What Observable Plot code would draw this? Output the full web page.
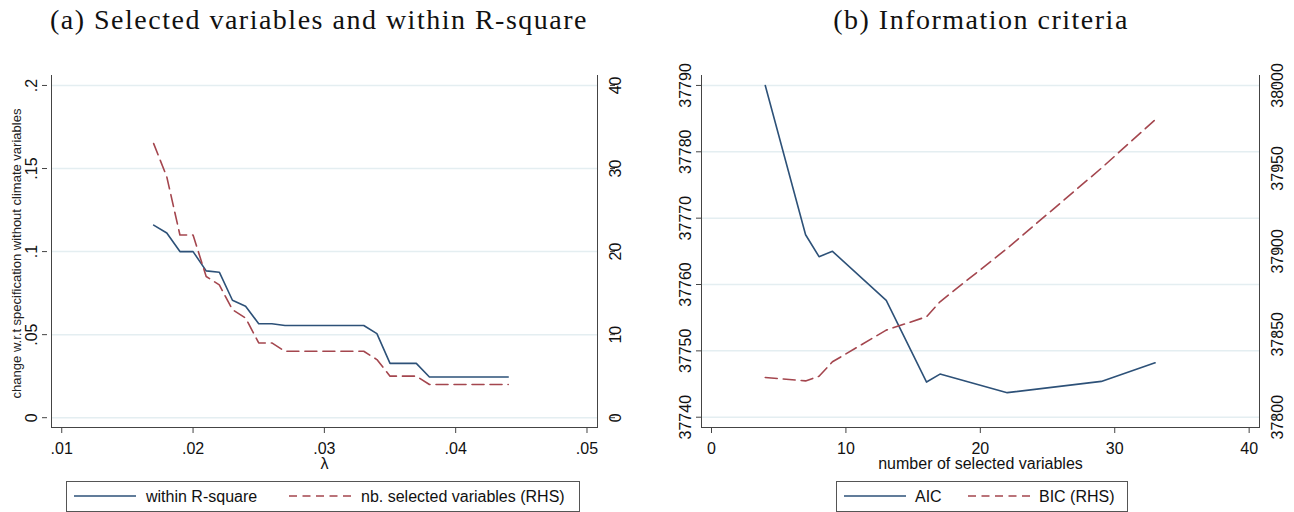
<!DOCTYPE html>
<html>
<head>
<meta charset="utf-8">
<script src="https://cdn.jsdelivr.net/npm/d3@7"></script>
<script src="https://cdn.jsdelivr.net/npm/@observablehq/plot@0.6"></script>
<style>
  html, body { margin: 0; padding: 0; background: #fff; }
  body { width: 1294px; height: 512px; position: relative; overflow: hidden; font-family: "Liberation Sans", Arial, sans-serif; color: #111; }
  .title { position: absolute; top: 0px; height: 40px; line-height: 40px; font-family: "Liberation Serif", serif; font-size: 28px; letter-spacing: 1.5px; text-align: center; color: #111; white-space: nowrap; }
  .panel { position: absolute; top: 58px; }
  .legend { position: absolute; top: 481px; height: 31px; border: 1px solid #555; box-sizing: border-box; font-size: 16px; color: #111; }
  .legend .s { position: absolute; top: 9px; }
  .legend .t { position: absolute; top: 0; line-height: 29px; white-space: nowrap; }
</style>
</head>
<body>
<div class="title" style="left:0px;width:638px;">(a) Selected variables and within R-square</div>
<div class="title" style="left:660px;width:642px;">(b) Information criteria</div>
<div id="left" class="panel" style="left:0px;"></div>
<div id="right" class="panel" style="left:647px;"></div>

<div class="legend" style="left:66px;width:514px;">
  <svg class="s" style="left:7px" width="62" height="10"><line x1="0" y1="5" x2="62" y2="5" stroke="#2d5178" stroke-width="1.6"/></svg>
  <span class="t" style="left:79px">within R-square</span>
  <svg class="s" style="left:222px" width="62" height="10"><line x1="0" y1="5" x2="62" y2="5" stroke="#a4464e" stroke-width="1.6" stroke-dasharray="8,5.5"/></svg>
  <span class="t" style="left:294px">nb. selected variables (RHS)</span>
</div>
<div class="legend" style="left:836px;width:292px;">
  <svg class="s" style="left:7px" width="62" height="10"><line x1="0" y1="5" x2="62" y2="5" stroke="#2d5178" stroke-width="1.6"/></svg>
  <span class="t" style="left:78px">AIC</span>
  <svg class="s" style="left:131px" width="62" height="10"><line x1="0" y1="5" x2="62" y2="5" stroke="#a4464e" stroke-width="1.6" stroke-dasharray="8,5.5"/></svg>
  <span class="t" style="left:202px">BIC (RHS)</span>
</div>

<script>
// ---------- Panel (a) data ----------
const lambda = [0.017, 0.018, 0.019, 0.020, 0.021, 0.022, 0.023, 0.024, 0.025, 0.026,
                0.027, 0.028, 0.029, 0.030, 0.031, 0.032, 0.033, 0.034, 0.035, 0.036,
                0.037, 0.038, 0.039, 0.040, 0.041, 0.042, 0.043, 0.044];
const withinR2 = [0.1159, 0.1112, 0.1000, 0.1000, 0.0884, 0.0876, 0.0707, 0.0671, 0.0566, 0.0566,
                  0.0555, 0.0555, 0.0555, 0.0555, 0.0555, 0.0555, 0.0555, 0.0506, 0.0327, 0.0327,
                  0.0327, 0.0245, 0.0245, 0.0245, 0.0245, 0.0245, 0.0245, 0.0245];
const nbSelected = [33, 29, 22, 22, 17, 16, 13, 12, 9, 9,
                    8, 8, 8, 8, 8, 8, 8, 7, 5, 5,
                    5, 4, 4, 4, 4, 4, 4, 4];
const lambdaTicks = [0.01, 0.02, 0.03, 0.04, 0.05];
const r2Ticks = [0, 0.05, 0.1, 0.15, 0.2];
const nbTicks = [0, 10, 20, 30, 40];

// ---------- Panel (b) data ----------
const nVars = [4, 7, 8, 9, 13, 16, 17, 22, 29, 33];
const aic = [37790, 37767.5, 37764.2, 37765.0, 37757.6, 37745.3, 37746.5, 37743.7, 37745.4, 37748.2];
const bic = [37823.9, 37821.9, 37824.7, 37833.4, 37852.5, 37860.6, 37869.6, 37901.8, 37950.1, 37979.3];
const nTicks = [0, 10, 20, 30, 40];
const aicTicks = [37740, 37750, 37760, 37770, 37780, 37790];
const bicTicks = [37800, 37850, 37900, 37950, 38000];

const BLUE = "#2d5178";
const RED = "#a4464e";
const GRID = "#e4eef1";
const AXIS = "#444";
const fmtDec = d => d === 0 ? "0" : String(+d.toFixed(4)).replace(/^0\./, ".");

// ---------- Panel (a) ----------
const k1 = 0.2 / 40; // RHS -> LHS mapping
const dataA = lambda.map((l, i) => ({l, r2: withinR2[i], nb: nbSelected[i]}));
const chartA = Plot.plot({
  width: 647, height: 420,
  marginLeft: 51, marginRight: 50, marginTop: 17, marginBottom: 51,
  x: {domain: [0.00922, 0.0508]},
  y: {domain: [-0.0059, 0.206]},
  style: {fontFamily: "Liberation Sans, Arial, sans-serif", fontSize: "16px", color: "#111", background: "white"},
  marks: [
    Plot.gridY(r2Ticks, {stroke: GRID, strokeOpacity: 1, strokeWidth: 1.5}),
    Plot.frame({anchor: "left", stroke: AXIS}),
    Plot.frame({anchor: "right", stroke: AXIS}),
    Plot.frame({anchor: "bottom", stroke: AXIS}),
    Plot.axisX(lambdaTicks, {tickSize: 6, tickPadding: 9, tickFormat: fmtDec, label: null, stroke: AXIS}),
    Plot.axisY(r2Ticks, {anchor: "left", tickSize: 5, tickPadding: 6, tickRotate: -90, dx: -4, tickFormat: fmtDec, label: null, stroke: AXIS}),
    Plot.axisY(nbTicks.map(t => t * k1), {anchor: "right", tickSize: 5, tickPadding: 6, tickRotate: -90, dx: 12, tickFormat: (d) => String(Math.round(d / k1)), label: null, stroke: AXIS}),
    Plot.line(dataA, {x: "l", y: "r2", stroke: BLUE, strokeWidth: 1.6}),
    Plot.line(dataA, {x: "l", y: d => d.nb * k1, stroke: RED, strokeWidth: 1.6, strokeDasharray: "12,6"}),
    Plot.text(["change w.r.t specification without climate variables"], {text: d => d, frameAnchor: "left", rotate: -90, textAnchor: "middle", lineAnchor: "middle", dx: -35, dy: 2, fontSize: 13, fill: "#222"}),
    Plot.text(["λ"], {text: d => d, frameAnchor: "bottom", lineAnchor: "top", dy: 30, fontSize: 16, fill: "#111"})
  ]
});
document.getElementById("left").appendChild(chartA);

// ---------- Panel (b) ----------
const k2 = 50 / 200;
const toLeft = v => 37740 + (v - 37800) * k2;
const dataB = nVars.map((n, i) => ({n, aic: aic[i], bic: bic[i]}));
const chartB = Plot.plot({
  width: 647, height: 420,
  marginLeft: 54, marginRight: 35, marginTop: 17, marginBottom: 51,
  x: {domain: [-0.744, 40.77]},
  y: {domain: [37738.45, 37791.5]},
  style: {fontFamily: "Liberation Sans, Arial, sans-serif", fontSize: "16px", color: "#111", background: "white"},
  marks: [
    Plot.gridY(aicTicks, {stroke: GRID, strokeOpacity: 1, strokeWidth: 1.5}),
    Plot.frame({anchor: "left", stroke: AXIS}),
    Plot.frame({anchor: "right", stroke: AXIS}),
    Plot.frame({anchor: "bottom", stroke: AXIS}),
    Plot.axisX(nTicks, {tickSize: 6, tickPadding: 9, tickFormat: d => String(d), label: null, stroke: AXIS}),
    Plot.axisY(aicTicks, {anchor: "left", tickSize: 5, tickPadding: 6, tickRotate: -90, tickFormat: d => String(d), label: null, stroke: AXIS}),
    Plot.axisY(bicTicks.map(toLeft), {anchor: "right", tickSize: 5, tickPadding: 6, tickRotate: -90, dx: 12, tickFormat: d => String(Math.round(37800 + (d - 37740) / k2)), label: null, stroke: AXIS}),
    Plot.line(dataB, {x: "n", y: "aic", stroke: BLUE, strokeWidth: 1.6}),
    Plot.line(dataB, {x: "n", y: d => toLeft(d.bic), stroke: RED, strokeWidth: 1.6, strokeDasharray: "12,6"}),
    Plot.text(["number of selected variables"], {text: d => d, frameAnchor: "bottom", lineAnchor: "top", dy: 30, fontSize: 16, fill: "#111"})
  ]
});
document.getElementById("right").appendChild(chartB);
</script>
</body>
</html>
